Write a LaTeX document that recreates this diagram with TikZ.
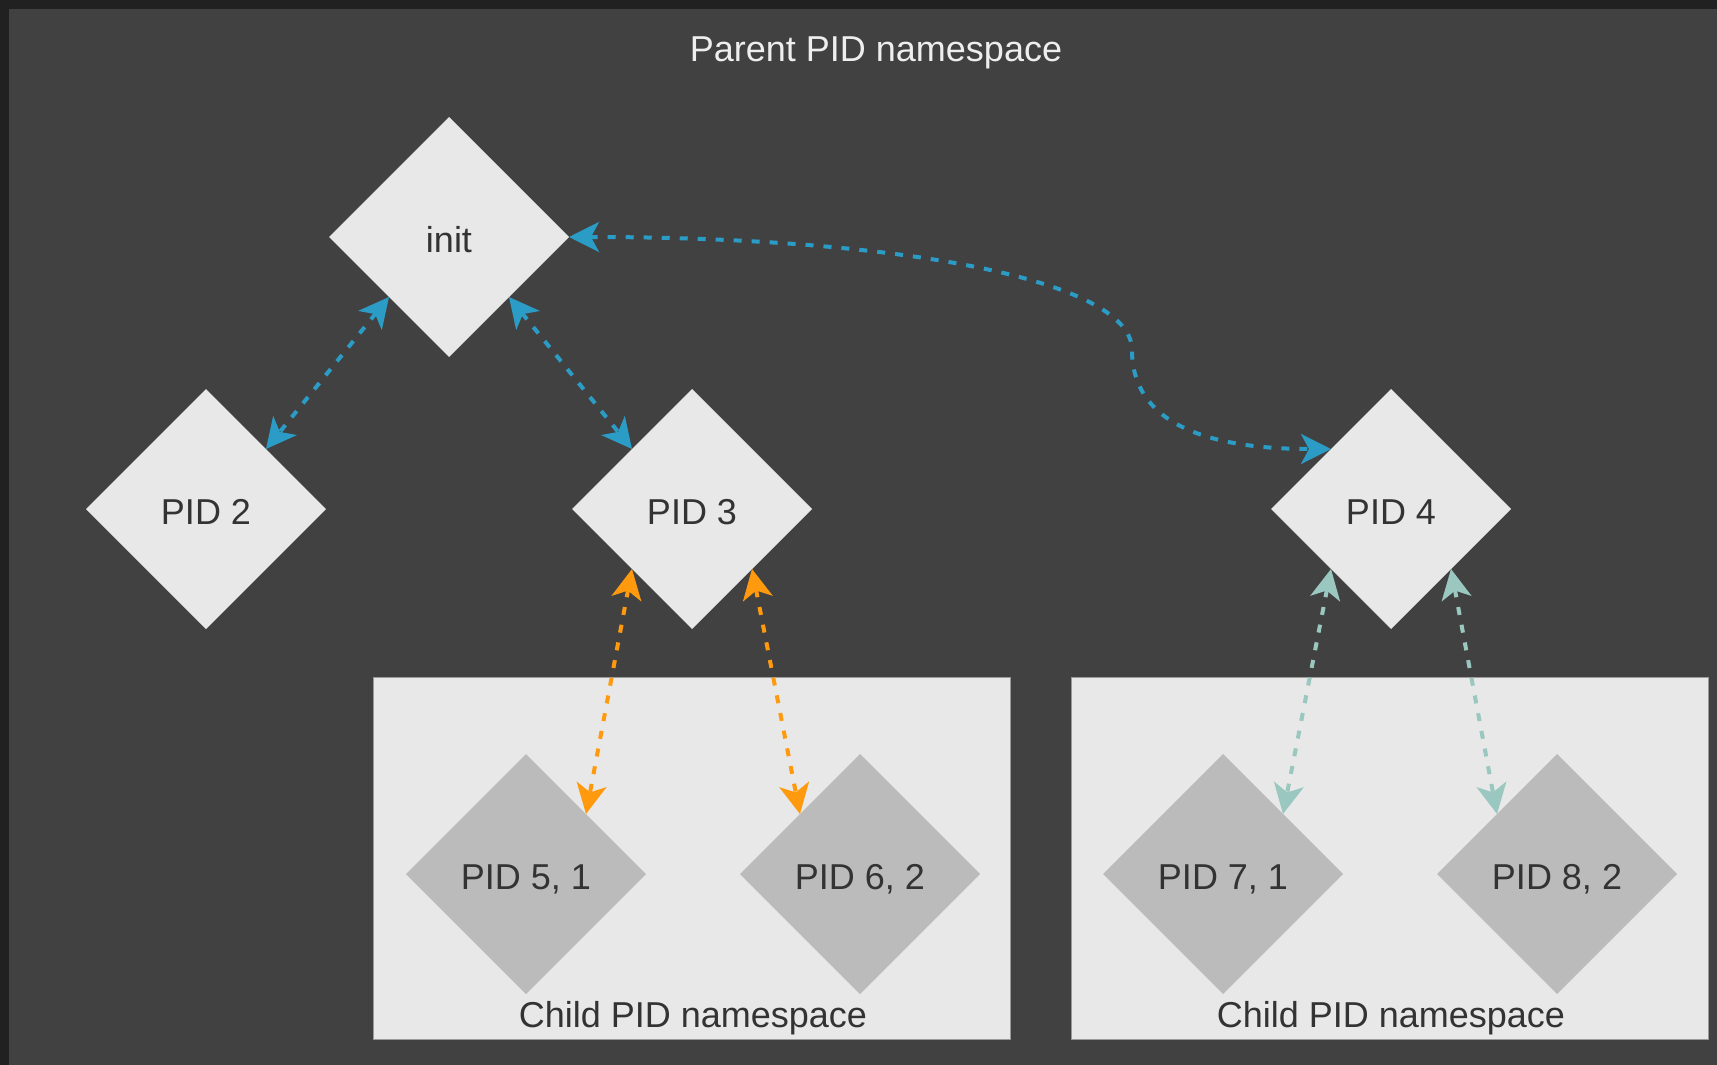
\documentclass[tikz,border=0pt]{standalone}
\usepackage{fontspec}
\setmainfont{Liberation Sans}
\usetikzlibrary{shapes.geometric,arrows.meta}

\definecolor{framedark}{HTML}{212121}
\definecolor{canvas}{HTML}{414141}
\definecolor{procfill}{HTML}{E8E8E8}
\definecolor{childfill}{HTML}{BBBBBB}
\definecolor{boxfill}{HTML}{E8E8E8}
\definecolor{boxline}{HTML}{9A9A9A}
\definecolor{txt}{HTML}{333333}
\definecolor{titletxt}{HTML}{EEEEEE}
\definecolor{linkblue}{HTML}{2B9CC6}
\definecolor{linkorange}{HTML}{FF9A0F}
\definecolor{linkteal}{HTML}{9AC7BF}

\tikzset{nstip/.tip={Stealth[length=30pt,width=30pt,inset=8pt]}}

\begin{document}
\begin{tikzpicture}[x=1pt,y=-1pt,
  labelfont/.style={font=\fontsize{36}{43}\selectfont},
  proc/.style={diamond, aspect=1, minimum width=240pt, minimum height=240pt,
    inner sep=0pt, outer sep=0pt, fill=procfill, text=txt, labelfont,
    text height=31pt, text depth=0pt},
  childproc/.style={proc, fill=childfill},
  nsbox/.style={rectangle, minimum width=637pt, minimum height=362pt,
    inner sep=0pt, fill=boxfill, draw=boxline, line width=1pt},
  link/.style={line width=4pt, dash pattern=on 8pt off 10pt, {nstip}-{nstip}},
]
% page and canvas
\useasboundingbox (0,0) rectangle (1717,1065);
\fill[framedark] (0,0) rectangle (1717,1065);
\fill[canvas] (9,9) rectangle (1717,1065);

% namespace title
\node[labelfont, text=titletxt] (title) at (876,53) {Parent PID namespace};

% child namespaces
\node[nsbox] (ns1) at (691.5,858) {};
\node[nsbox] (ns2) at (1389.5,858) {};

% processes in the parent namespace
\node[proc] (init) at (449,237) {init};
\node[proc] (p2) at (206,509) {PID 2};
\node[proc] (p3) at (692,509) {PID 3};
\node[proc] (p4) at (1391,509) {PID 4};

% processes in the child namespaces
\node[childproc] (p5) at (526,874) {PID 5, 1};
\node[childproc] (p6) at (860,874) {PID 6, 2};
\node[childproc] (p7) at (1223,874) {PID 7, 1};
\node[childproc] (p8) at (1557,874) {PID 8, 2};

% namespace labels
\node[labelfont, text=txt] (l1) at (693,1018) {Child PID namespace};
\node[labelfont, text=txt] (l2) at (1391,1018) {Child PID namespace};

% parent/child links
\draw[link, linkblue] (init.south west) -- (p2.north east);
\draw[link, linkblue] (init.south east) -- (p3.north west);
\draw[link, linkblue] (init.east) .. controls (900,237) and (1132,280) .. (1132,350)
  .. controls (1132,420) and (1200,449) .. (p4.north west);

\draw[link, linkorange] (p3.south west) -- (p5.north east);
\draw[link, linkorange] (p3.south east) -- (p6.north west);

\draw[link, linkteal] (p4.south west) -- (p7.north east);
\draw[link, linkteal] (p4.south east) -- (p8.north west);
\end{tikzpicture}
\end{document}
